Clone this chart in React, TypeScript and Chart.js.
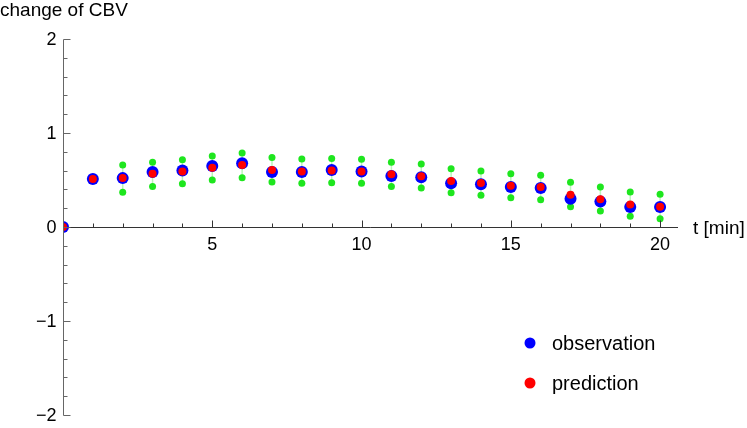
import React, { useEffect, useRef } from "react";
import { Chart, registerables } from "chart.js";

Chart.register(...registerables);

const times = [0, 1, 2, 3, 4, 5, 6, 7, 8, 9, 10, 11, 12, 13, 14, 15, 16, 17, 18, 19, 20];
const observation = [0, 0.51, 0.52, 0.585, 0.6, 0.65, 0.677, 0.585, 0.585, 0.606, 0.59, 0.543, 0.53, 0.465, 0.454, 0.426, 0.415, 0.3, 0.27, 0.213, 0.213];
const prediction = [0, 0.51, 0.52, 0.567, 0.59, 0.63, 0.66, 0.606, 0.59, 0.6, 0.59, 0.56, 0.54, 0.49, 0.468, 0.44, 0.426, 0.344, 0.295, 0.24, 0.216];
const upperBound = [null, null, 0.66, 0.69, 0.716, 0.755, 0.787, 0.74, 0.723, 0.73, 0.72, 0.69, 0.67, 0.62, 0.596, 0.567, 0.55, 0.475, 0.426, 0.372, 0.348];
const lowerBound = [null, null, 0.37, 0.43, 0.46, 0.5, 0.525, 0.48, 0.465, 0.47, 0.465, 0.43, 0.415, 0.365, 0.337, 0.31, 0.29, 0.216, 0.17, 0.114, 0.088];

const xMajorTicks = [5, 10, 15, 20];
const xMinorTicks = [1, 2, 3, 4, 6, 7, 8, 9, 11, 12, 13, 14, 16, 17, 18, 19];
const yMajorTicks = [-2, -1, 0, 1, 2];
const yMinorTicks = [-1.8, -1.6, -1.4, -1.2, -0.8, -0.6, -0.4, -0.2, 0.2, 0.4, 0.6, 0.8, 1.2, 1.4, 1.6, 1.8];

const yAxisTitle = "change of CBV";
const xAxisTitle = "t [min]";
const seriesNames = ["observation", "prediction"];

const FONT = '"Liberation Sans", Arial, sans-serif';
const BLUE = "#0000ff";
const RED = "#ff0000";
const GREEN = "#1ee61e";

const fmt = (v: number) => (v < 0 ? "\u2212" + Math.abs(v) : String(v));

const pts = (ys: (number | null)[]) =>
  times.map((t, i) => (ys[i] === null ? null : { x: t, y: ys[i] as number })).filter((p) => p !== null);

export default function App() {
  const ref = useRef<HTMLCanvasElement>(null);

  useEffect(() => {
    const canvas = ref.current!;
    const errBars = {
      id: "errBars",
      beforeDatasetsDraw(chart: any) {
        const { ctx, scales } = chart;
        const xs = scales.x, ys = scales.y;
        ctx.save();
        ctx.strokeStyle = "rgba(60,230,60,0.35)";
        ctx.lineWidth = 1.5;
        times.forEach((t, i) => {
          const u = upperBound[i], l = lowerBound[i];
          if (u === null || l === null) return;
          const px = xs.getPixelForValue(t);
          ctx.beginPath();
          ctx.moveTo(px, ys.getPixelForValue(u));
          ctx.lineTo(px, ys.getPixelForValue(l));
          ctx.stroke();
        });
        ctx.restore();
      },
    };
    const axes = {
      id: "axes",
      afterDraw(chart: any) {
        const { ctx, scales } = chart;
        const xs = scales.x, ys = scales.y;
        const x0 = Math.round(xs.getPixelForValue(0)) + 0.5;
        const y0 = Math.round(ys.getPixelForValue(0)) + 0.5;
        const xEnd = xs.getPixelForValue(xs.max);
        const yTop = Math.round(ys.getPixelForValue(2)) + 0.5;
        const yBot = Math.round(ys.getPixelForValue(-2)) + 0.5;
        ctx.save();
        ctx.lineWidth = 1;
        // x axis
        ctx.strokeStyle = "#333333";
        ctx.beginPath();
        ctx.moveTo(x0, y0);
        ctx.lineTo(xEnd, y0);
        xMajorTicks.forEach((t) => {
          const p = Math.round(xs.getPixelForValue(t)) + 0.5;
          ctx.moveTo(p, y0);
          ctx.lineTo(p, y0 - 7);
        });
        xMinorTicks.forEach((t) => {
          const p = Math.round(xs.getPixelForValue(t)) + 0.5;
          ctx.moveTo(p, y0);
          ctx.lineTo(p, y0 - 4);
        });
        ctx.stroke();
        // y axis
        ctx.strokeStyle = "#666666";
        ctx.beginPath();
        ctx.moveTo(x0, yTop);
        ctx.lineTo(x0, yBot);
        yMajorTicks.forEach((v) => {
          const p = Math.round(ys.getPixelForValue(v)) + 0.5;
          ctx.moveTo(x0, p);
          ctx.lineTo(x0 + 7, p);
        });
        yMinorTicks.forEach((v) => {
          const p = Math.round(ys.getPixelForValue(v)) + 0.5;
          ctx.moveTo(x0, p);
          ctx.lineTo(x0 + 4, p);
        });
        ctx.stroke();

        ctx.fillStyle = "#000";
        ctx.font = `18px ${FONT}`;
        ctx.textAlign = "center";
        ctx.textBaseline = "middle";
        xMajorTicks.forEach((t) => {
          ctx.fillText(fmt(t), xs.getPixelForValue(t), y0 + 18);
        });
        ctx.textAlign = "right";
        yMajorTicks.forEach((v) => {
          ctx.fillText(fmt(v), x0 - 7, ys.getPixelForValue(v) + 1);
        });
        ctx.font = `19px ${FONT}`;
        ctx.textAlign = "left";
        ctx.textBaseline = "alphabetic";
        ctx.fillText(yAxisTitle, 0, 16);
        ctx.textBaseline = "middle";
        ctx.fillText(xAxisTitle, 693, y0 + 1);

        // legend
        ctx.font = `20px ${FONT}`;
        const legendColors = [BLUE, RED];
        seriesNames.forEach((name, i) => {
          const cy = 343 + i * 40;
          ctx.fillStyle = legendColors[i];
          ctx.beginPath();
          ctx.arc(530, cy, 5.5, 0, Math.PI * 2);
          ctx.fill();
          ctx.fillStyle = "#000";
          ctx.textAlign = "left";
          ctx.fillText(name, 552, cy + 1);
        });
        ctx.restore();
      },
    };

    const chart = new Chart(canvas, {
      type: "scatter",
      data: {
        datasets: [
          {
            label: "upper",
            data: pts(upperBound) as any,
            backgroundColor: GREEN,
            borderWidth: 0,
            pointRadius: 3.5,
            order: 3,
          },
          {
            label: "lower",
            data: pts(lowerBound) as any,
            backgroundColor: GREEN,
            borderWidth: 0,
            pointRadius: 3.5,
            order: 3,
          },
          {
            label: seriesNames[0],
            data: pts(observation) as any,
            backgroundColor: BLUE,
            borderWidth: 0,
            pointRadius: 6,
            order: 2,
          },
          {
            label: seriesNames[1],
            data: pts(prediction) as any,
            backgroundColor: RED,
            borderWidth: 0,
            pointRadius: 4,
            order: 1,
          },
        ],
      },
      options: {
        animation: false,
        responsive: false,
        maintainAspectRatio: false,
        events: [],
        layout: { padding: { left: 63, right: 69, top: 39, bottom: 13 } },
        plugins: { legend: { display: false }, tooltip: { enabled: false } },
        scales: {
          x: { type: "linear", min: 0, max: 20.6, display: false },
          y: { type: "linear", min: -2, max: 2, display: false },
        },
      },
      plugins: [errBars, axes],
    });
    return () => chart.destroy();
  }, []);

  return (
    <div style={{ position: "absolute", left: 0, top: 0, width: 747, height: 428, background: "#fff" }}>
      <canvas ref={ref} width={747} height={428} style={{ width: 747, height: 428 }} />
    </div>
  );
}
